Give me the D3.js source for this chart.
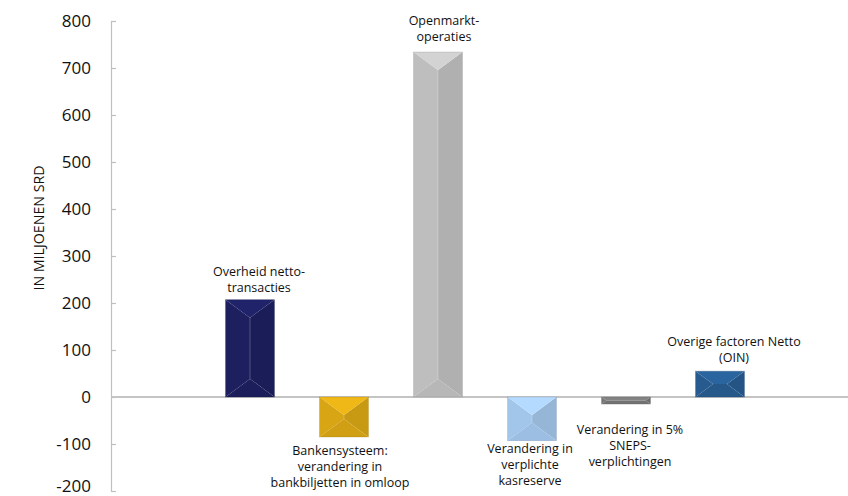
<!DOCTYPE html>
<html><head><meta charset="utf-8">
<script src="https://cdn.jsdelivr.net/npm/d3@7"></script>
<style>body{margin:0;background:#fff}</style>
</head><body>
<svg id="c" width="848" height="496"></svg>
<script>
// ---- data ----
const categories = [
  "Overheid netto-\ntransacties",
  "Bankensysteem:\nverandering in\nbankbiljetten in omloop",
  "Openmarkt-\noperaties",
  "Verandering in\nverplichte\nkasreserve",
  "Verandering in 5%\nSNEPS-\nverplichtingen",
  "Overige factoren Netto\n(OIN)"
];
const values = [207, -85, 734, -93, -15, 55];
const yTicks = [-200, -100, 0, 100, 200, 300, 400, 500, 600, 700, 800];
const yTitle = "IN MILJOENEN SRD";

// ---- layout / style ----
const colors = ["#1d1f5f", "#d8a514", "#bebebe", "#a2c5ea", "#767676", "#275b8f"];
const labelDx = [9, -4, 6, -2, 4, 14];
const labelGap = [12, 14, 16, 8, 25, 14];

const svg = d3.select("#c");
const x = d3.scaleBand().domain(categories).range([203, 767]).paddingInner(0.48).paddingOuter(0.24);
const y = d3.scaleLinear().domain([-200, 800]).range([491, 21]);

// axis
const axis = d3.axisLeft(y).tickValues(yTicks).tickSize(-5).tickPadding(20).tickFormat(d => String(d));
const ag = svg.append("g").attr("transform", "translate(111,0)").call(axis);
ag.select(".domain").attr("stroke", "#bfbfbf").attr("stroke-width", 1.2);
ag.selectAll(".tick line").attr("stroke", "#bfbfbf").attr("stroke-width", 1.2);
ag.selectAll(".tick text").attr("font-family", "'Open Sans', sans-serif").attr("font-size", 17).attr("fill", "#111")
  .attr("dy", d => d === -200 ? "0em" : "0.32em");

// zero line
svg.append("line").attr("x1", 111).attr("x2", 848).attr("y1", y(0)).attr("y2", y(0))
  .attr("stroke", "#c4c4c4").attr("stroke-width", 2);

// y title
svg.append("text").attr("transform", `translate(38,228) rotate(-90)`)
  .attr("text-anchor", "middle").attr("dominant-baseline", "central")
  .attr("font-family", "'Open Sans', sans-serif").attr("font-size", 15).attr("fill", "#111")
  .attr("textLength", 125).attr("lengthAdjust", "spacingAndGlyphs")
  .text(yTitle);

// bevelled bars
categories.forEach((c, i) => {
  const v = values[i];
  const x0 = x(c), x1 = x0 + x.bandwidth(), cx = (x0 + x1) / 2;
  const y0 = Math.min(y(v), y(0)), y1 = Math.max(y(v), y(0));
  const w = x1 - x0, h = y1 - y0;
  const dy = Math.min(h / 2, 18);
  const dx = Math.min(w / 2, dy * 1.35);
  const base = d3.color(colors[i]);
  const g = svg.append("g");
  const ix0 = x0 + dx, ix1 = x1 - dx, iy0 = y0 + dy, iy1 = y1 - dy;
  const poly = (pts, col) => g.append("polygon").attr("points", pts.map(p => p.join(",")).join(" ")).attr("fill", col);
  if (ix1 > ix0) {
    poly([[ix0, iy0], [cx, iy0], [cx, iy1], [ix0, iy1]], base.formatHex());
    poly([[cx, iy0], [ix1, iy0], [ix1, iy1], [cx, iy1]], base.darker(0.2).formatHex());
  }
  poly([[x0, y0], [ix0, iy0], [ix0, iy1], [x0, y1]], base.formatHex());
  poly([[x1, y0], [x1, y1], [ix1, iy1], [ix1, iy0]], base.darker(0.22).formatHex());
  poly([[x0, y0], [x1, y0], [ix1, iy0], [ix0, iy0]], base.brighter(0.3).formatHex());
  poly([[x0, y1], [ix0, iy1], [ix1, iy1], [x1, y1]], base.darker(0.1).formatHex());
  g.append("rect").attr("x", x0).attr("y", y0).attr("width", w).attr("height", h)
    .attr("fill", "none").attr("stroke", base.darker(0.8).formatHex()).attr("stroke-width", 0.6).attr("opacity", 0.5);

  // label
  const lines = c.split("\n");
  const lh = 16;
  const tx = cx + labelDx[i];
  let firstY;
  if (v >= 0) firstY = y0 - labelGap[i] - (lines.length - 1) * lh;
  else firstY = y1 + labelGap[i];
  const t = svg.append("text").attr("text-anchor", "middle")
    .attr("font-family", "'Open Sans', sans-serif").attr("font-size", 12.5).attr("fill", "#111");
  lines.forEach((l, k) => t.append("tspan").attr("x", tx).attr("y", firstY + k * lh)
    .attr("dominant-baseline", "central").text(l));
});
</script>
</body></html>
